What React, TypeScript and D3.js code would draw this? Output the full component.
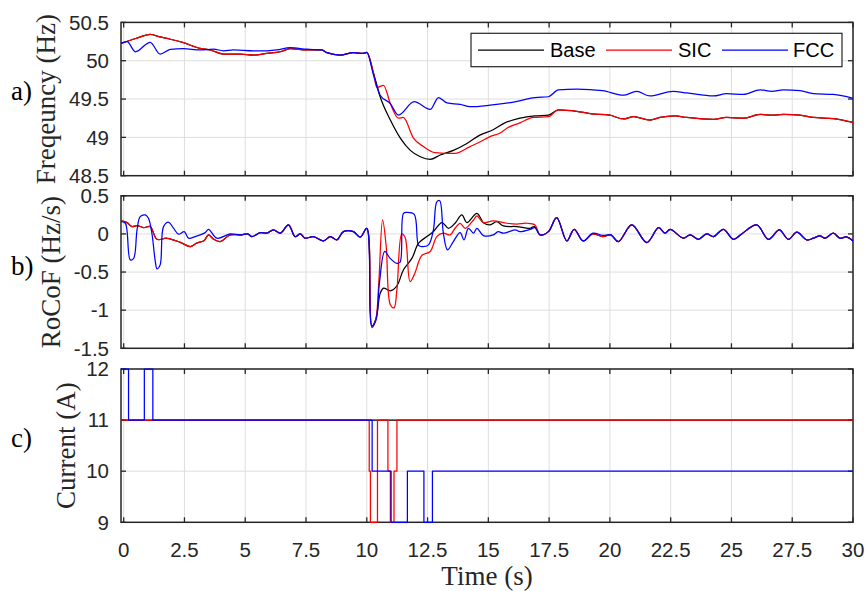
import React from 'react';
import * as d3 from 'd3';

type P = [number, number];

// ---------- data ----------
const xTicks = [0, 2.5, 5, 7.5, 10, 12.5, 15, 17.5, 20, 22.5, 25, 27.5, 30];
const xTickLabels = ['0', '2.5', '5', '7.5', '10', '12.5', '15', '17.5', '20', '22.5', '25', '27.5', '30'];
const seriesNames = ['Base', 'SIC', 'FCC'];
const seriesColors = ['#000000', '#ff0000', '#0000ff'];

const freqTicks = [48.5, 49, 49.5, 50, 50.5];
const freqTickLabels = ['48.5', '49', '49.5', '50', '50.5'];
const rocofTicks = [-1.5, -1, -0.5, 0, 0.5];
const rocofTickLabels = ['-1.5', '-1', '-0.5', '0', '0.5'];
const currentTicks = [9, 10, 11, 12];
const currentTickLabels = ['9', '10', '11', '12'];

// a) frequency (Hz)
const freqBase: P[] = [
  [-0.11, 50.227], [0.5, 50.29], [1.09, 50.345], [1.5, 50.31], [1.92, 50.28], [2.46, 50.235], [3.15, 50.16],
  [3.56, 50.14], [4.11, 50.087], [4.8, 50.087], [5.34, 50.074], [5.89, 50.096], [6.44, 50.117], [6.85, 50.157],
  [7.54, 50.14], [8.15, 50.14], [8.36, 50.105], [8.9, 50.074], [9.45, 50.105], [9.86, 50.096], [10.0, 50.11],
  [10.28, 49.835], [10.55, 49.53], [10.97, 49.226], [11.38, 48.99], [11.79, 48.83], [12.2, 48.747], [12.61, 48.713],
  [13.02, 48.77], [13.56, 48.83], [14.12, 48.92], [14.65, 49.03], [15.2, 49.1], [15.62, 49.18], [16.3, 49.25],
  [16.92, 49.28], [17.47, 49.29], [17.88, 49.36], [18.64, 49.34], [19.19, 49.31], [20.0, 49.29], [20.55, 49.24],
  [20.97, 49.27], [21.65, 49.226], [22.06, 49.26], [22.68, 49.28], [23.16, 49.26], [24.26, 49.235], [24.8, 49.26],
  [25.49, 49.25], [26.18, 49.3], [26.66, 49.29], [27.13, 49.3], [27.82, 49.29], [28.37, 49.26], [29.19, 49.245], [30, 49.195],
];
const freqSIC: P[] = [
  [-0.11, 50.227], [0.5, 50.29], [1.09, 50.345], [1.5, 50.31], [1.92, 50.28], [2.46, 50.235], [3.15, 50.16],
  [3.56, 50.14], [4.11, 50.087], [4.8, 50.087], [5.34, 50.074], [5.89, 50.096], [6.44, 50.117], [6.85, 50.157],
  [7.54, 50.14], [8.15, 50.14], [8.36, 50.105], [8.9, 50.074], [9.45, 50.105], [9.86, 50.096], [10.0, 50.11],
  [10.28, 49.835], [10.41, 49.65], [10.69, 49.68], [10.97, 49.44], [11.3, 49.25], [11.5, 49.26], [11.92, 48.99],
  [12.33, 48.88], [12.81, 48.8], [13.3, 48.79], [13.63, 48.79], [14.25, 48.88], [14.65, 48.94], [15.07, 49.01],
  [15.5, 49.06], [15.76, 49.12], [16.3, 49.19], [16.85, 49.26], [17.47, 49.27], [17.88, 49.36], [18.64, 49.34],
  [19.19, 49.31], [20.0, 49.29], [20.55, 49.24], [20.97, 49.27], [21.65, 49.226], [22.06, 49.26], [22.68, 49.28],
  [23.16, 49.26], [24.26, 49.235], [24.8, 49.26], [25.49, 49.25], [26.18, 49.3], [26.66, 49.29], [27.13, 49.3],
  [27.82, 49.29], [28.37, 49.26], [29.19, 49.245], [30, 49.195],
];
const freqFCC: P[] = [
  [-0.11, 50.227], [0.14, 50.25], [0.48, 50.117], [1.09, 50.24], [1.5, 50.087], [1.92, 50.149], [2.46, 50.157],
  [3.15, 50.14], [3.7, 50.15], [4.11, 50.13], [4.52, 50.14], [5.34, 50.127], [5.89, 50.13], [6.3, 50.14],
  [6.85, 50.17], [7.54, 50.15], [8.15, 50.14], [8.36, 50.105], [8.9, 50.074], [9.45, 50.105], [9.86, 50.096],
  [10.0, 50.11], [10.28, 49.81], [10.55, 49.55], [10.97, 49.44], [11.3, 49.29], [11.95, 49.465], [12.61, 49.365],
  [12.95, 49.52], [13.3, 49.45], [13.84, 49.43], [14.25, 49.4], [15.07, 49.42], [16.03, 49.46], [16.92, 49.52],
  [17.47, 49.53], [17.88, 49.62], [18.64, 49.63], [19.7, 49.61], [20.55, 49.55], [21.1, 49.6], [21.65, 49.54],
  [22.6, 49.6], [23.16, 49.58], [24.26, 49.54], [24.8, 49.57], [25.49, 49.56], [26.18, 49.62], [26.66, 49.6],
  [27.13, 49.62], [27.82, 49.61], [28.37, 49.57], [29.19, 49.56], [30, 49.51],
];

// b) RoCoF (Hz/s)
const rocofBase: P[] = [
  [-0.11, 0.17], [0.14, 0.148], [0.34, 0.096], [0.55, 0.11], [0.82, 0.083], [1.09, 0.096], [1.37, -0.07],
  [1.78, -0.057], [2.33, -0.11], [2.74, -0.166], [3.0, -0.12], [3.3, -0.09], [3.49, -0.013], [3.7, -0.07],
  [3.97, -0.1], [4.38, -0.013], [4.8, -0.013], [5.1, 0], [5.27, -0.035], [5.62, 0.017], [5.89, 0.01],
  [6.16, 0.052], [6.44, 0.01], [6.78, 0.118], [7.05, -0.035], [7.27, 0.0], [7.46, -0.056], [7.8, -0.035],
  [8.22, -0.092], [8.5, -0.035], [8.77, -0.079], [9.04, 0.03], [9.45, 0.03], [9.73, -0.043], [10.0, 0.074],
  [10.21, -1.21], [10.39, -1.1], [10.55, -0.78], [10.69, -0.71], [10.96, -0.746], [11.24, -0.68], [11.51, -0.47],
  [11.86, -0.318], [12.13, -0.122], [12.47, -0.035], [12.74, 0.03], [13.09, 0.148], [13.36, 0.074], [13.63, 0.14],
  [13.91, 0.249], [14.12, 0.148], [14.53, 0.27], [14.8, 0.148], [15.07, 0.118], [15.35, 0.16], [15.62, 0.105],
  [16.17, 0.096], [16.7, 0.074], [16.9, 0.096], [17.13, -0.013], [17.47, 0.03], [17.81, 0.213], [18.23, -0.092],
  [18.53, 0.06], [18.9, -0.092], [19.3, 0], [19.7, -0.035], [20.04, -0.013], [20.35, -0.1], [20.9, 0.118],
  [21.52, -0.113], [22.0, 0.083], [22.27, 0.009], [22.48, 0.06], [23.02, -0.056], [23.3, -0.013], [23.64, -0.07],
  [23.98, 0], [24.26, -0.035], [24.67, 0.06], [25.08, -0.07], [25.42, 0], [26.04, 0.118], [26.52, -0.07],
  [26.97, 0.052], [27.34, -0.07], [27.69, 0.022], [28.1, -0.079], [28.37, -0.056], [28.64, -0.026], [28.85, -0.056],
  [29.19, 0.009], [29.46, -0.056], [29.73, -0.04], [30, -0.092],
];
const rocofSIC: P[] = [
  [-0.11, 0.17], [0.14, 0.148], [0.34, 0.096], [0.55, 0.11], [0.82, 0.083], [1.09, 0.096], [1.37, -0.07],
  [1.78, -0.057], [2.33, -0.11], [2.74, -0.166], [3.0, -0.12], [3.3, -0.09], [3.49, -0.013], [3.7, -0.07],
  [3.97, -0.1], [4.38, -0.013], [4.8, -0.013], [5.1, 0], [5.27, -0.035], [5.62, 0.017], [5.89, 0.01],
  [6.16, 0.052], [6.44, 0.01], [6.78, 0.118], [7.05, -0.035], [7.27, 0.0], [7.46, -0.056], [7.8, -0.035],
  [8.22, -0.092], [8.5, -0.035], [8.77, -0.079], [9.04, 0.03], [9.45, 0.03], [9.73, -0.043], [10.0, 0.074],
  [10.21, -1.23], [10.37, -1.12], [10.5, -0.6], [10.65, 0.183], [10.8, -0.166], [10.97, -0.93], [11.12, -0.97],
  [11.24, -0.73], [11.44, 0.0], [11.58, -0.05], [11.78, -0.624], [11.95, -0.537], [12.27, -0.28], [12.61, -0.23],
  [12.88, -0.035], [13.15, 0.009], [13.43, -0.013], [13.63, 0.074], [13.84, 0.14], [14.05, 0.074], [14.39, 0.183],
  [14.53, 0.236], [14.8, 0.148], [15.2, 0.17], [15.76, 0.14], [16.17, 0.13], [16.58, 0.14], [16.92, 0.118],
  [17.13, -0.013], [17.47, 0.03], [17.81, 0.213], [18.23, -0.092], [18.53, 0.06], [18.9, -0.092], [19.3, 0],
  [19.7, -0.035], [20.04, -0.013], [20.35, -0.1], [20.9, 0.118], [21.52, -0.113], [22.0, 0.083], [22.27, 0.009],
  [22.48, 0.06], [23.02, -0.056], [23.3, -0.013], [23.64, -0.07], [23.98, 0], [24.26, -0.035], [24.67, 0.06],
  [25.08, -0.07], [25.42, 0], [26.04, 0.118], [26.52, -0.07], [26.97, 0.052], [27.34, -0.07], [27.69, 0.022],
  [28.1, -0.079], [28.37, -0.056], [28.64, -0.026], [28.85, -0.056], [29.19, 0.009], [29.46, -0.056], [29.73, -0.04],
  [30, -0.092],
];
const rocofFCC: P[] = [
  [-0.1, 0.16], [0.07, 0.14], [0.27, -0.34], [0.41, -0.32], [0.55, 0.052], [0.68, 0.226], [0.89, 0.249],
  [1.02, 0.205], [1.16, 0.009], [1.3, -0.36], [1.37, -0.458], [1.5, -0.406], [1.64, 0.096], [1.85, 0.153],
  [2.05, 0.075], [2.26, -0.004], [2.49, 0.03], [2.67, -0.056], [2.94, -0.035], [3.15, -0.013], [3.35, 0.017],
  [3.49, 0.06], [3.84, -0.056], [4.38, 0.0], [4.8, -0.013], [5.1, 0], [5.27, -0.035], [5.62, 0.017], [5.89, 0.01],
  [6.16, 0.052], [6.44, 0.01], [6.78, 0.118], [7.05, -0.035], [7.27, 0.0], [7.46, -0.056], [7.8, -0.035],
  [8.22, -0.092], [8.5, -0.035], [8.77, -0.079], [9.04, 0.03], [9.45, 0.03], [9.73, -0.043], [10.0, 0.074],
  [10.21, -1.21], [10.37, -1.14], [10.52, -0.645], [10.74, -0.23], [10.96, -0.32], [11.24, -0.385], [11.37, -0.37],
  [11.51, 0.27], [11.65, 0.283], [11.95, 0.257], [12.13, -0.15], [12.27, -0.166], [12.54, -0.144], [12.74, 0.052],
  [12.88, 0.42], [13.0, 0.436], [13.15, 0.009], [13.32, -0.209], [13.56, -0.1], [13.84, 0.017], [14.0, -0.078],
  [14.18, 0.074], [14.39, 0.01], [14.53, 0.074], [14.8, -0.022], [15.2, -0.013], [15.4, 0.03], [15.62, 0.01],
  [16.1, 0.052], [16.3, 0.03], [16.72, 0.06], [16.92, 0.083], [17.13, -0.013], [17.47, 0.03], [17.81, 0.213],
  [18.23, -0.092], [18.53, 0.06], [18.9, -0.092], [19.3, 0.01], [19.7, -0.02], [20.04, -0.013], [20.35, -0.1],
  [20.9, 0.118], [21.52, -0.113], [22.0, 0.083], [22.27, 0.009], [22.48, 0.06], [23.02, -0.056], [23.3, -0.013],
  [23.64, -0.07], [23.98, 0], [24.26, -0.035], [24.67, 0.06], [25.08, -0.07], [25.42, 0], [26.04, 0.118],
  [26.52, -0.07], [26.97, 0.052], [27.34, -0.07], [27.69, 0.022], [28.1, -0.079], [28.37, -0.056], [28.64, -0.026],
  [28.85, -0.056], [29.19, 0.009], [29.46, -0.056], [29.73, -0.04], [30, -0.092],
];

// c) current (A) — step change points [time, level]
const currentBase: P[] = [[-0.11, 11], [30, 11]];
const currentSIC: P[] = [
  [-0.11, 11], [10.1, 10], [10.15, 9], [10.44, 11], [10.87, 10], [10.97, 9], [11.12, 10], [11.24, 11], [30, 11],
];
const currentFCC: P[] = [
  [-0.11, 12], [0.2, 11], [0.85, 12], [1.2, 11], [10.22, 10], [11.0, 9], [11.67, 10], [12.35, 9], [12.7, 10], [30, 10],
];

// ---------- layout ----------
const W = 867;
const H = 591;
const X0 = 121;
const X1 = 853;
const AX = '#262626';
const GRID = '#dedede';
const SANS = '"Liberation Sans", Arial, Helvetica, sans-serif';
const SERIF = '"Liberation Serif", "Times New Roman", serif';

const xScale = d3.scaleLinear().domain([-0.11, 30]).range([X0, X1]);

type Panel = {
  tag: string;
  tagY: number;
  ylabel: string;
  ylabelX: number;
  top: number;
  bottom: number;
  domain: [number, number];
  ticks: number[];
  tickLabels: string[];
  data: P[][];
  curve: d3.CurveFactory;
  showX: boolean;
};

const panels: Panel[] = [
  {
    tag: 'a)', tagY: 100, ylabel: 'Freqeuncy (Hz)', ylabelX: 55, top: 22.4, bottom: 175.7,
    domain: [48.5, 50.5], ticks: freqTicks, tickLabels: freqTickLabels,
    data: [freqBase, freqSIC, freqFCC], curve: d3.curveMonotoneX, showX: false,
  },
  {
    tag: 'b)', tagY: 275, ylabel: 'RoCoF (Hz/s)', ylabelX: 60, top: 195.8, bottom: 348.3,
    domain: [-1.5, 0.5], ticks: rocofTicks, tickLabels: rocofTickLabels,
    data: [rocofBase, rocofSIC, rocofFCC], curve: d3.curveCatmullRom.alpha(0.5), showX: false,
  },
  {
    tag: 'c)', tagY: 447, ylabel: 'Current (A)', ylabelX: 75, top: 369, bottom: 522.3,
    domain: [9, 12], ticks: currentTicks, tickLabels: currentTickLabels,
    data: [currentBase, currentSIC, currentFCC], curve: d3.curveStepAfter, showX: true,
  },
];

function PanelView({ p }: { p: Panel }) {
  const y = d3.scaleLinear().domain(p.domain).range([p.bottom, p.top]);
  const line = d3
    .line<P>()
    .x((d) => xScale(d[0]))
    .y((d) => y(d[1]))
    .curve(p.curve);
  const tl = 5;
  return (
    <g>
      {xTicks.map((t, i) => (
        <line key={'gx' + i} x1={xScale(t)} x2={xScale(t)} y1={p.top} y2={p.bottom} stroke={GRID} strokeWidth={1} />
      ))}
      {p.ticks.map((t, i) => (
        <line key={'gy' + i} x1={X0} x2={X1} y1={y(t)} y2={y(t)} stroke={GRID} strokeWidth={1} />
      ))}
      {xTicks.map((t, i) => (
        <g key={'tx' + i}>
          <line x1={xScale(t)} x2={xScale(t)} y1={p.bottom} y2={p.bottom - tl} stroke={AX} strokeWidth={1.3} />
          <line x1={xScale(t)} x2={xScale(t)} y1={p.top} y2={p.top + tl} stroke={AX} strokeWidth={1.3} />
        </g>
      ))}
      {p.ticks.map((t, i) => (
        <g key={'ty' + i}>
          <line x1={X0} x2={X0 + tl} y1={y(t)} y2={y(t)} stroke={AX} strokeWidth={1.3} />
          <line x1={X1} x2={X1 - tl} y1={y(t)} y2={y(t)} stroke={AX} strokeWidth={1.3} />
          <text x={109} y={y(t) + 7.2} textAnchor="end" fontFamily={SANS} fontSize={20.5} fill={AX}>
            {p.tickLabels[i]}
          </text>
        </g>
      ))}
      <rect x={X0} y={p.top} width={X1 - X0} height={p.bottom - p.top} fill="none" stroke={AX} strokeWidth={1.5} />
      {p.data.map((d, i) => (
        <path key={'s' + i} d={line(d) || ''} fill="none" stroke={seriesColors[i]} strokeWidth={1.25} strokeLinejoin="round" />
      ))}
      {p.showX &&
        xTicks.map((t, i) => (
          <text key={'xl' + i} x={xScale(t)} y={557} textAnchor="middle" fontFamily={SANS} fontSize={20.5} fill={AX}>
            {xTickLabels[i]}
          </text>
        ))}
      <text
        transform={`translate(${p.ylabelX},${(p.top + p.bottom) / 2}) rotate(-90)`}
        textAnchor="middle"
        fontFamily={SERIF}
        fontSize={27}
        fill={AX}
      >
        {p.ylabel}
      </text>
      <text x={11} y={p.tagY} fontFamily={SERIF} fontSize={27} fill="#000">
        {p.tag}
      </text>
    </g>
  );
}

function Legend() {
  const items = [
    { l0: 478, l1: 544, tx: 550 },
    { l0: 606, l1: 672, tx: 678 },
    { l0: 722, l1: 788, tx: 793 },
  ];
  return (
    <g>
      <rect x={471} y={33.3} width={371} height={33.4} fill="#fff" stroke={AX} strokeWidth={1.2} />
      {items.map((it, i) => (
        <g key={i}>
          <line x1={it.l0} x2={it.l1} y1={50} y2={50} stroke={seriesColors[i]} strokeWidth={1.25} />
          <text x={it.tx} y={57.3} fontFamily={SANS} fontSize={20} fill="#000">
            {seriesNames[i]}
          </text>
        </g>
      ))}
    </g>
  );
}

export default function App() {
  return (
    <svg
      width={W}
      height={H}
      viewBox={`0 0 ${W} ${H}`}
      style={{ position: 'absolute', left: 0, top: 0, background: '#fff' }}
    >
      <rect x={0} y={0} width={W} height={H} fill="#fff" />
      {panels.map((p, i) => (
        <PanelView key={i} p={p} />
      ))}
      <Legend />
      <text x={(X0 + X1) / 2} y={585} textAnchor="middle" fontFamily={SERIF} fontSize={27} fill={AX}>
        Time (s)
      </text>
    </svg>
  );
}
